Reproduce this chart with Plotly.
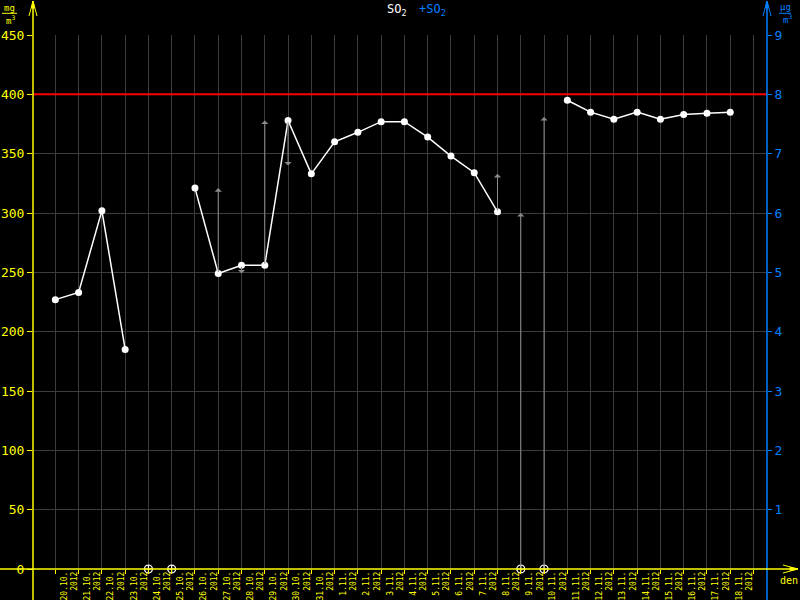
import plotly.graph_objects as go

# ---------------- data ----------------
days = ["20.10.", "21.10.", "22.10.", "23.10.", "24.10.", "25.10.", "26.10.", "27.10.",
        "28.10.", "29.10.", "30.10.", "31.10.", "1.11.", "2.11.", "3.11.", "4.11.",
        "5.11.", "6.11.", "7.11.", "8.11.", "9.11.", "10.11.", "11.11.", "12.11.",
        "13.11.", "14.11.", "15.11.", "16.11.", "17.11.", "18.11."]
year = "2012"
so2 = [227, 233, 302, 185, None, None, 321, 249, 256, 256, 378, 333, 360, 368, 377,
       377, 364, 348, 334, 301, None, None, 395, 385, 379, 385, 379, 383, 384, 385]
limit_value = 400
arrow_days = ["27.10.", "28.10.", "29.10.", "30.10.", "8.11.", "9.11.", "10.11."]
arrow_from = [249, 256, 256, 378, 301, 0, 0]
arrow_to = [321, 249, 378, 340, 333, 300, 381]
left_ticks = [0, 50, 100, 150, 200, 250, 300, 350, 400, 450]
right_ticks = [1, 2, 3, 4, 5, 6, 7, 8, 9]

# ---------------- styling ----------------
YEL = "#ffff00"
BLUE = "#0080ff"
GRID = "#3c3c3c"
FONT = "DejaVu Sans Mono"

L, R, T, B = 33, 767, 35, 569  # plot area in pixels


def px(x):
    return (x - L) / (R - L)


def py(y):
    return (B - y) / (B - T)


idx = list(range(len(days)))
missing = [i for i, v in enumerate(so2) if v is None]

fig = go.Figure()
fig.add_trace(go.Scatter(x=idx, y=so2, mode="lines+markers",
                         line=dict(color="white", width=1.5),
                         marker=dict(color="white", size=7, symbol="circle"),
                         connectgaps=False, showlegend=False, hoverinfo="skip"))
fig.add_trace(go.Scatter(x=missing, y=[0] * len(missing), mode="markers",
                         marker=dict(symbol="circle-cross-open", color="white", size=8,
                                     line=dict(width=1.2)),
                         cliponaxis=False, showlegend=False, hoverinfo="skip"))
# dummy trace for secondary axes
fig.add_trace(go.Scatter(x=[0], y=[0], xaxis="x2", yaxis="y2", mode="markers",
                         marker=dict(opacity=0), showlegend=False, hoverinfo="skip"))

shapes = []
annotations = []

# limit line
shapes.append(dict(type="line", xref="paper", yref="y", x0=0, x1=1, y0=limit_value,
                   y1=limit_value, line=dict(color="#ff0000", width=2), layer="above"))

# gray arrows
for d, a, b in zip(arrow_days, arrow_from, arrow_to):
    i = days.index(d)
    annotations.append(dict(x=i, y=b, ax=i, ay=a, xref="x", yref="y", axref="x", ayref="y",
                            text="", showarrow=True, arrowhead=1, arrowsize=1.2,
                            arrowwidth=1, arrowcolor="#8a8a8a", standoff=0, startstandoff=0))

# axis lines (extended beyond plot area)
shapes.append(dict(type="line", xref="paper", yref="paper", x0=px(33), x1=px(33),
                   y0=py(600), y1=py(1), line=dict(color=YEL, width=1.5)))
shapes.append(dict(type="line", xref="paper", yref="paper", x0=px(767), x1=px(767),
                   y0=py(600), y1=py(1), line=dict(color=BLUE, width=1.5)))
shapes.append(dict(type="line", xref="paper", yref="paper", x0=px(0), x1=px(798),
                   y0=py(569), y1=py(569), line=dict(color=YEL, width=1.5)))


def path(points, close=False):
    s = "M " + " L ".join(f"{px(x)},{py(y)}" for x, y in points)
    return s + (" Z" if close else "")


for xc, col in [(33, YEL), (767, BLUE)]:
    shapes.append(dict(type="path", xref="paper", yref="paper",
                       path=path([(xc - 4, 16), (xc, 1), (xc + 4, 16)]),
                       line=dict(color=col, width=1)))
    shapes.append(dict(type="path", xref="paper", yref="paper",
                       path=path([(xc - 1.5, 8), (xc, 1), (xc + 1.5, 8)], close=True),
                       fillcolor=col, line=dict(color=col, width=1)))
shapes.append(dict(type="path", xref="paper", yref="paper",
                   path=path([(783, 565), (798, 569), (783, 573)]),
                   line=dict(color=YEL, width=1)))
shapes.append(dict(type="path", xref="paper", yref="paper",
                   path=path([(790, 567.5), (798, 569), (790, 570.5)], close=True),
                   fillcolor=YEL, line=dict(color=YEL, width=1)))

# unit fractions
shapes.append(dict(type="line", xref="paper", yref="paper", x0=px(2), x1=px(17),
                   y0=py(13.3), y1=py(13.3), line=dict(color=YEL, width=1)))
shapes.append(dict(type="line", xref="paper", yref="paper", x0=px(779), x1=px(791),
                   y0=py(13.3), y1=py(13.3), line=dict(color=BLUE, width=1)))


def ann(x, y, text, color, size, xanchor="center"):
    annotations.append(dict(x=px(x), y=py(y), xref="paper", yref="paper", text=text,
                            showarrow=False, xanchor=xanchor, yanchor="middle",
                            font=dict(family=FONT, size=size, color=color)))


ann(9.5, 7.5, "mg", YEL, 9)
ann(10, 19.5, "m<sup>3</sup>", YEL, 9)
ann(785, 7, "µg", BLUE, 9)
ann(787, 19, "m<sup>3</sup>", BLUE, 9)
ann(789, 580, "den", YEL, 10)
ann(385, 10, "SO<sub>2</sub>", "white", 12, "left")
ann(417, 10, "+SO<sub>2</sub>", BLUE, 12, "left")

fig.update_layout(
    width=800, height=600,
    margin=dict(l=L, r=800 - R, t=T, b=600 - B),
    paper_bgcolor="black", plot_bgcolor="black",
    font=dict(family=FONT, color=YEL),
    showlegend=False,
    xaxis=dict(range=[-0.96, 30.58], tickvals=list(range(len(days) + 1)),
               showticklabels=False, ticks="outside", ticklen=4, tickcolor=YEL,
               tickwidth=1, showgrid=True, gridcolor=GRID, gridwidth=1,
               zeroline=False, showline=False, fixedrange=True),
    xaxis2=dict(overlaying="x", side="bottom", range=[-0.96, 30.58],
                tickvals=[i + 0.6 for i in idx],
                ticktext=[f"{d}<br>{year}" for d in days],
                tickangle=-90, tickfont=dict(family=FONT, size=8, color=YEL),
                ticks="", showgrid=False, zeroline=False, showline=False,
                automargin=False),
    yaxis=dict(range=[0, 450], tickvals=left_ticks, ticks="outside", ticklen=5,
               tickcolor=YEL, tickfont=dict(family=FONT, size=13, color=YEL),
               showgrid=True, gridcolor=GRID, gridwidth=1, zeroline=False,
               showline=False, automargin=False),
    yaxis2=dict(overlaying="y", side="right", range=[0, 9], tickvals=right_ticks,
                ticks="outside", ticklen=4, tickcolor=BLUE,
                tickfont=dict(family=FONT, size=13, color=BLUE),
                showgrid=False, zeroline=False, showline=False, automargin=False),
    shapes=shapes,
    annotations=annotations,
)

fig.write_html("out.html",
               config={"displayModeBar": False, "staticPlot": True},
               post_script="document.body.style.margin='0px';"
                           "document.body.style.overflow='hidden';"
                           "document.body.style.background='black';")
